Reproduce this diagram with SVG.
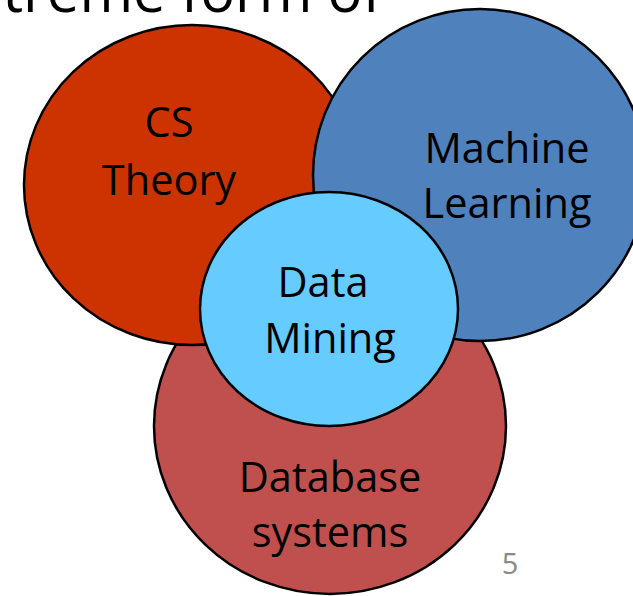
<svg xmlns="http://www.w3.org/2000/svg" width="633" height="596" viewBox="0 0 633 596">
<style>
.c{stroke:#000;stroke-width:2.5}
.t{font-family:"Open Sans","Liberation Sans",sans-serif;font-size:41.5px;fill:#000;text-anchor:middle}
</style>
<rect width="633" height="596" fill="#fff"/>
<text x="382" y="12" font-family="Open Sans, Liberation Sans, sans-serif" font-size="58" text-anchor="end" fill="#000">treme form of</text>
<g id="database">
<ellipse class="c" cx="330" cy="426" rx="176" ry="168" fill="#C0504D"/>
<text class="t" x="330" y="492">Database</text>
<text class="t" x="330" y="547">systems</text>
</g>
<g id="cs-theory">
<ellipse class="c" cx="192" cy="185" rx="168" ry="160" fill="#CC3300"/>
<text class="t" x="169" y="137">CS</text>
<text class="t" x="169" y="195">Theory</text>
</g>
<g id="machine-learning">
<ellipse class="c" cx="480" cy="175" rx="167" ry="166" fill="#4F81BD"/>
<text class="t" x="507" y="163">Machine</text>
<text class="t" x="507" y="218">Learning</text>
</g>
<g id="data-mining">
<ellipse class="c" cx="329" cy="309" rx="129" ry="117" fill="#66CCFF"/>
<text class="t" x="323" y="297">Data</text>
<text class="t" x="330" y="353">Mining</text>
</g>
<g id="connectors"/>
<text x="510" y="574" font-family="Open Sans, Liberation Sans, sans-serif" font-size="29" text-anchor="middle" fill="#898989">5</text>
</svg>
